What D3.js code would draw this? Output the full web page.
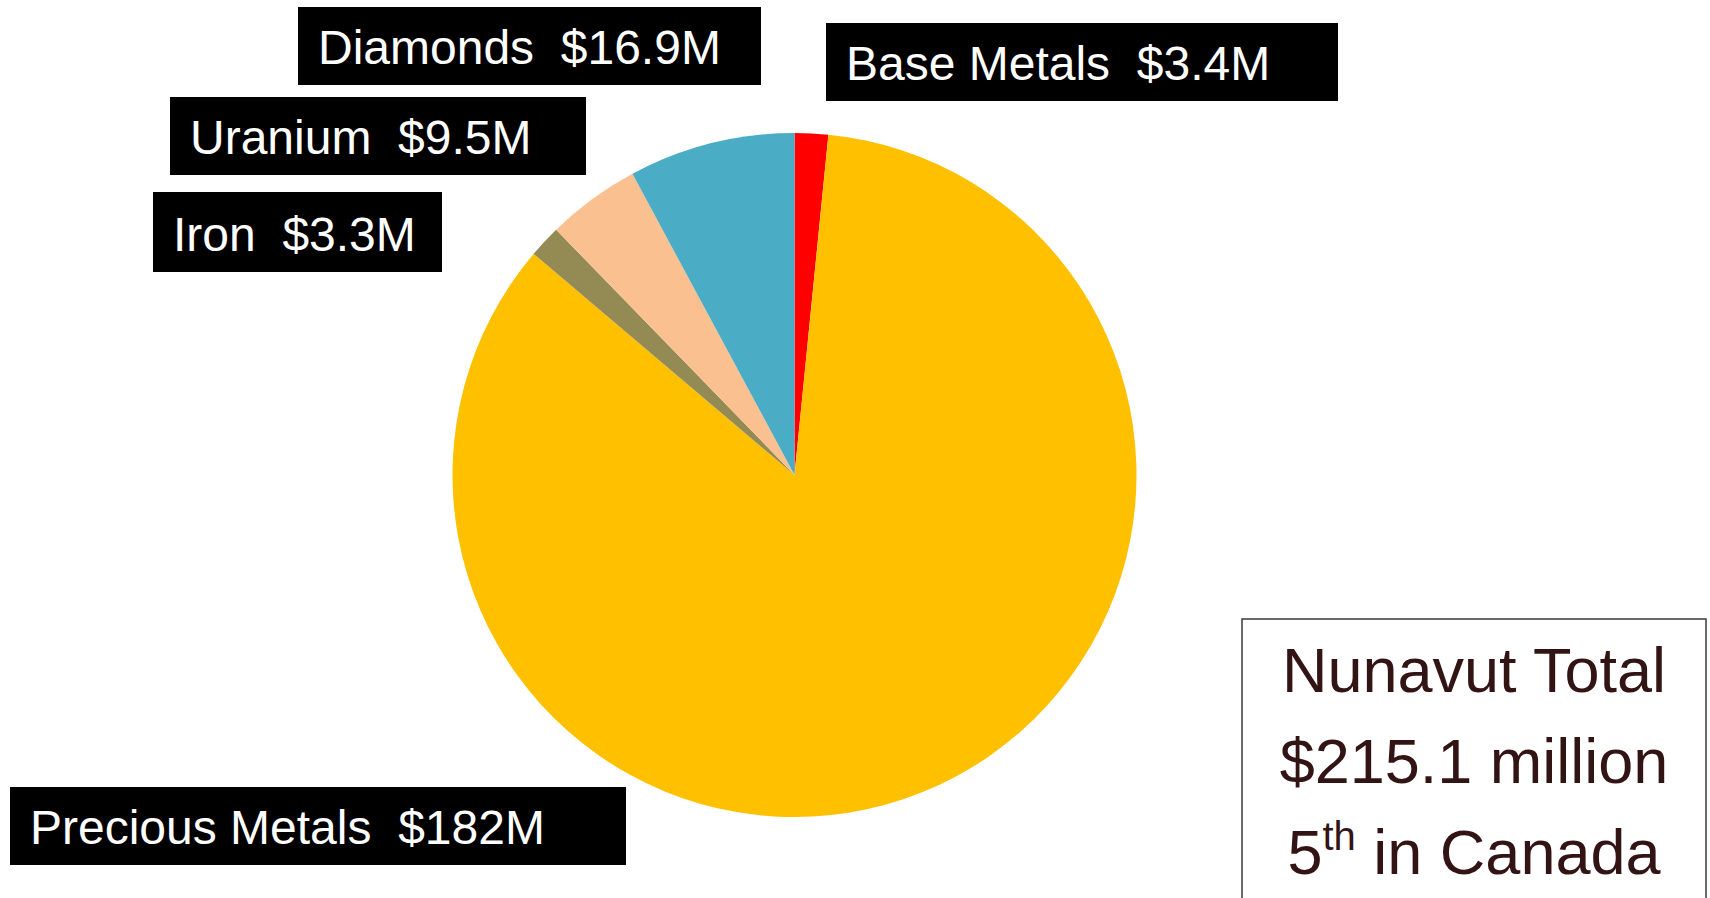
<!DOCTYPE html>
<html>
<head>
<meta charset="utf-8">
<script src="https://cdn.jsdelivr.net/npm/d3@7"></script>
<style>
  html, body { margin: 0; padding: 0; background: #fff; overflow: hidden; }
  svg { display: block; font-family: "Liberation Sans", Arial, sans-serif; }
</style>
</head>
<body>
<svg id="chart"></svg>
<script>
// clockwise from 12 o'clock
const categories = ['Base Metals', 'Precious Metals', 'Iron', 'Uranium', 'Diamonds']
const values = [3.4, 182, 3.3, 9.5, 16.9]
const valueLabels = ['$3.4M', '$182M', '$3.3M', '$9.5M', '$16.9M']
const colors = ['#FF0000', '#FFC000', '#948A54', '#FAC090', '#4BACC6']
const totalLines = ['Nunavut Total', '$215.1 million']

// label box placement, one per category
const boxes = [
  { x: 826, y: 23, w: 512, h: 78 },
  { x: 10, y: 787, w: 616, h: 78 },
  { x: 153, y: 192, w: 289, h: 80 },
  { x: 170, y: 97, w: 416, h: 78 },
  { x: 298, y: 7, w: 463, h: 78 }
]

const svgWidth = 1710
const svgHeight = 898
const cx = 794.5
const cy = 475
const radius = 342

const svg = d3.select('#chart')
  .attr('width', svgWidth)
  .attr('height', svgHeight)

const data = categories.map((c, i) => ({ name: c, value: values[i], label: valueLabels[i] }))

const pie = d3.pie().sort(null).value(d => d.value)
const arc = d3.arc().innerRadius(0).outerRadius(radius)

const g = svg.append('g')
  .attr('transform', `translate(${cx}, ${cy})`)

g.selectAll('path')
  .data(pie(data))
  .join('path')
  .attr('fill', (d, i) => colors[i])
  .attr('d', arc)

// Labels
const labels = svg.append('g')
  .selectAll('g')
  .data(data)
  .join('g')
  .attr('transform', (d, i) => `translate(${boxes[i].x}, ${boxes[i].y})`)

labels.append('rect')
  .attr('width', (d, i) => boxes[i].w)
  .attr('height', (d, i) => boxes[i].h)
  .attr('fill', '#000')

labels.append('text')
  .attr('x', 20)
  .attr('y', (d, i) => boxes[i].h - 21)
  .attr('fill', '#fff')
  .attr('font-size', 48)
  .attr('xml:space', 'preserve')
  .style('white-space', 'pre')
  .text(d => `${d.name}  ${d.label}`)

// Total box
const tb = svg.append('g')
tb.append('rect')
  .attr('x', 1242)
  .attr('y', 619)
  .attr('width', 464)
  .attr('height', 300)
  .attr('fill', '#fff')
  .attr('stroke', '#3a3a3a')
  .attr('stroke-width', 1.5)

const tColor = '#331414'
totalLines.forEach((line, i) => {
  tb.append('text')
    .attr('x', 1474)
    .attr('y', 692 + i * 91)
    .attr('text-anchor', 'middle')
    .attr('fill', tColor)
    .attr('font-size', 63)
    .text(line)
})

const rank = tb.append('text')
  .attr('x', 1474)
  .attr('y', 874)
  .attr('text-anchor', 'middle')
  .attr('fill', tColor)
  .attr('font-size', 63)
rank.append('tspan').text('5')
rank.append('tspan').attr('font-size', 40).attr('dy', -24).text('th')
rank.append('tspan').attr('dy', 24).text(' in Canada')
</script>
</body>
</html>
